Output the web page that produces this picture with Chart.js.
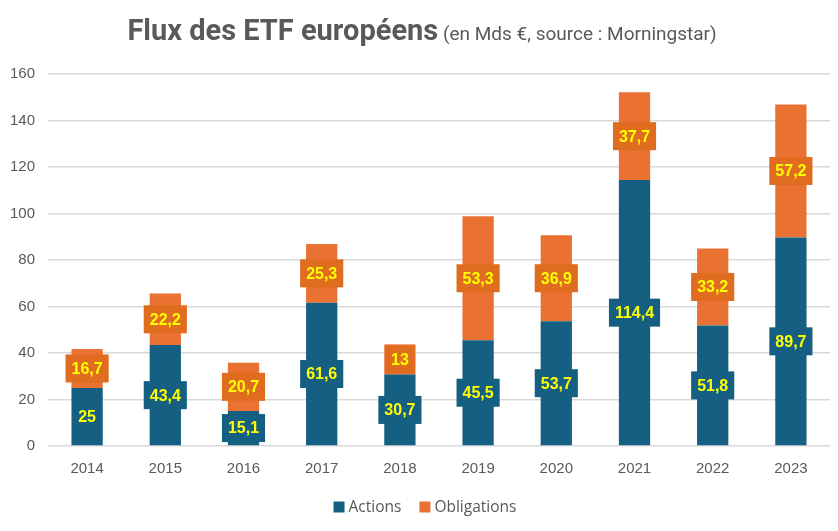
<!DOCTYPE html>
<html><head><meta charset="utf-8">
<script src="https://cdn.jsdelivr.net/npm/chart.js@4.4.0/dist/chart.umd.min.js"></script>
<style>html,body{margin:0;padding:0;background:#fff}#wrap{width:838px;height:531px}</style>
</head><body><div id="wrap"><canvas id="c" width="838" height="531"></canvas></div>
<script>
const years = ['2014','2015','2016','2017','2018','2019','2020','2021','2022','2023'];
const actions = [25, 43.4, 15.1, 61.6, 30.7, 45.5, 53.7, 114.4, 51.8, 89.7];
const obligations = [16.7, 22.2, 20.7, 25.3, 13, 53.3, 36.9, 37.7, 33.2, 57.2];
const yTicks = [0, 20, 40, 60, 80, 100, 120, 140, 160];

const BLUE = '#156082', ORANGE = '#e97132', ORANGE_BOX = '#e06c20';

const titlePlugin = {
  id: 'titleP',
  afterDraw(chart) {
    const ctx = chart.ctx;
    ctx.save();
    const t1 = 'Flux des ETF européens', t2 = ' (en Mds €, source : Morningstar)';
    const f1 = 'bold 29px Roboto, "Liberation Sans", sans-serif';
    const f2 = '19px Roboto, "Liberation Sans", sans-serif';
    ctx.font = f1; const w1 = ctx.measureText(t1).width;
    ctx.font = f2; const w2 = ctx.measureText(t2).width;
    const x0 = 422 - (w1 + w2) / 2;
    ctx.fillStyle = '#595959'; ctx.textBaseline = 'alphabetic'; ctx.textAlign = 'left';
    ctx.font = f1; ctx.fillText(t1, x0, 40);
    ctx.font = f2; ctx.fillText(t2, x0 + w1, 40);
    ctx.restore();
  }
};

const legendPlugin = {
  id: 'legendP',
  afterDraw(chart) {
    const ctx = chart.ctx;
    ctx.save();
    ctx.font = '15.5px "Open Sans", "Noto Sans", sans-serif';
    ctx.textBaseline = 'middle'; ctx.textAlign = 'left';
    const items = chart.data.datasets.map(d => ({ label: d.label, color: d.backgroundColor, w: ctx.measureText(d.label).width }));
    const box = 11, gap = 4, itemGap = 18;
    let total = items.reduce((s, it) => s + box + gap + it.w, 0) + itemGap * (items.length - 1);
    let x = 425 - total / 2;
    const cy = 507;
    items.forEach(it => {
      ctx.fillStyle = it.color;
      ctx.fillRect(x, cy - box / 2, box, box);
      ctx.fillStyle = '#595959';
      ctx.fillText(it.label, x + box + gap, cy + 0.5);
      x += box + gap + it.w + itemGap;
    });
    ctx.restore();
  }
};

const labelPlugin = {
  id: 'labelsP',
  afterDatasetsDraw(chart) {
    const ctx = chart.ctx;
    ctx.save();
    ctx.font = 'bold 16px "Liberation Sans", Arial, sans-serif';
    ctx.textAlign = 'center'; ctx.textBaseline = 'middle';
    chart.data.datasets.forEach((ds, di) => {
      const meta = chart.getDatasetMeta(di);
      meta.data.forEach((bar, i) => {
        const v = ds.data[i];
        const txt = String(v).replace('.', ',');
        const cy = (bar.y + bar.base) / 2;
        const w = ctx.measureText(txt).width + 12;
        const h = 28;
        ctx.fillStyle = di === 0 ? BLUE : ORANGE_BOX;
        ctx.fillRect(bar.x - w / 2, cy - h / 2, w, h);
        ctx.fillStyle = '#ffff00';
        ctx.fillText(txt, bar.x, cy + 1);
      });
    });
    ctx.restore();
  }
};

new Chart(document.getElementById('c'), {
  type: 'bar',
  data: {
    labels: years,
    datasets: [
      { label: 'Actions', data: actions, backgroundColor: BLUE },
      { label: 'Obligations', data: obligations, backgroundColor: ORANGE }
    ]
  },
  options: {
    responsive: false,
    animation: false,
    devicePixelRatio: 1,
    layout: { padding: { top: 74, right: 8, left: 0, bottom: 47 } },
    datasets: { bar: { categoryPercentage: 1, barPercentage: 0.4 } },
    plugins: {
      legend: { display: false },
      tooltip: { enabled: false },
      title: { display: false }
    },
    scales: {
      x: {
        stacked: true,
        grid: { display: false },
        border: { display: false },
        ticks: { color: '#595959', padding: 6, font: { size: 15, family: '"Liberation Sans", Arial, sans-serif' } }
      },
      y: {
        stacked: true,
        min: 0, max: 160,
        afterBuildTicks(scale) { scale.ticks = yTicks.map(v => ({ value: v })); },
        afterFit(scale) { scale.width = 48; },
        grid: { color: '#d9d9d9', lineWidth: 1.5, drawTicks: false },
        border: { display: false },
        ticks: { color: '#595959', padding: 13, font: { size: 15, family: '"Liberation Sans", Arial, sans-serif' } }
      }
    }
  },
  plugins: [titlePlugin, labelPlugin, legendPlugin]
});
</script></body></html>
